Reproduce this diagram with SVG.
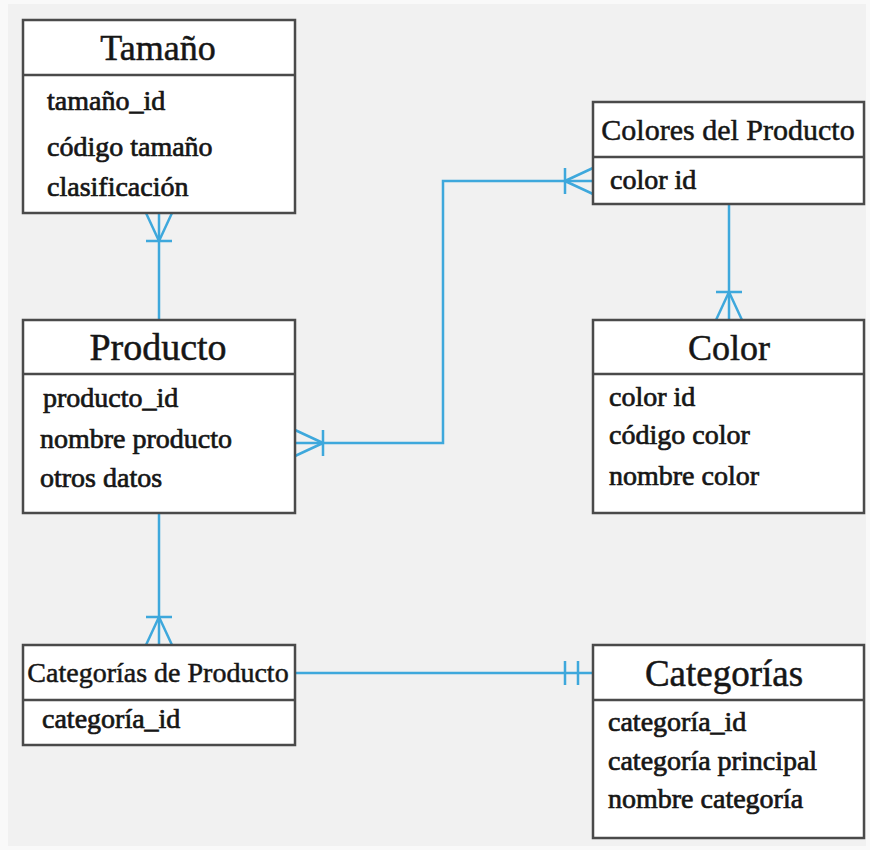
<svg xmlns="http://www.w3.org/2000/svg" width="870" height="850" viewBox="0 0 870 850">
  <style>
    .box { fill: #ffffff; stroke: #4a4a4a; stroke-width: 2.5; }
    .div { stroke: #4a4a4a; stroke-width: 2.5; }
    .title { font-family: "Liberation Serif", "DejaVu Serif", serif; fill: #161616; text-anchor: middle; stroke: #161616; stroke-width: 0.5; }
    .attr { font-family: "Liberation Serif", "DejaVu Serif", serif; font-size: 28px; fill: #161616; stroke: #161616; stroke-width: 0.7; }
    .rel { fill: none; stroke: #3ea8dc; stroke-width: 2.5; }
    .mk { fill: none; stroke: #3ea8dc; stroke-width: 2.5; }
  </style>
  <defs>
    <!-- crow's foot (many), tip at the entity edge -->
    <marker id="many" markerUnits="userSpaceOnUse" viewBox="-32 -16 34 32" refX="0" refY="0" markerWidth="34" markerHeight="32" orient="auto-start-reverse" overflow="visible">
      <path class="mk" d="M -28 0 L 0 -13 M -28 0 L 0 13 M -28 -13 L -28 13"/>
    </marker>
    <!-- exactly one: double bar -->
    <marker id="one" markerUnits="userSpaceOnUse" viewBox="-32 -16 34 32" refX="0" refY="0" markerWidth="34" markerHeight="32" orient="auto" overflow="visible">
      <path class="mk" d="M -15 -12 L -15 12 M -28 -12 L -28 12"/>
    </marker>
  </defs>

  <rect x="0" y="0" width="870" height="850" fill="#f9f9f9"/>
  <rect x="8" y="4" width="858" height="842" fill="#f1f1f1"/>

  <g id="connectors">
    <path class="rel" d="M159 320 V213" marker-end="url(#many)"/>
    <path class="rel" d="M593 181 H443 V443 H295" marker-start="url(#many)" marker-end="url(#many)"/>
    <path class="rel" d="M729 204 V320" marker-end="url(#many)"/>
    <path class="rel" d="M159 513 V645" marker-end="url(#many)"/>
    <path class="rel" d="M295 673 H593" marker-end="url(#one)"/>
  </g>

  <g id="tamano">
    <rect class="box" x="23" y="20" width="272" height="193"/>
    <line class="div" x1="23" y1="75" x2="295" y2="75"/>
    <text class="title" x="158" y="60" font-size="36">Tamaño</text>
    <text class="attr" x="47" y="110">tamaño_id</text>
    <text class="attr" x="47" y="156">código tamaño</text>
    <text class="attr" x="47" y="196">clasificación</text>
  </g>

  <g id="producto">
    <rect class="box" x="23" y="320" width="272" height="193"/>
    <line class="div" x1="23" y1="374" x2="295" y2="374"/>
    <text class="title" x="158" y="360" font-size="38">Producto</text>
    <text class="attr" x="43" y="407">producto_id</text>
    <text class="attr" x="40" y="448">nombre producto</text>
    <text class="attr" x="40" y="487">otros datos</text>
  </g>

  <g id="colores-del-producto">
    <rect class="box" x="593" y="102" width="271" height="102"/>
    <line class="div" x1="593" y1="157" x2="864" y2="157"/>
    <text class="title" x="728" y="140" font-size="30">Colores del Producto</text>
    <text class="attr" x="610" y="189">color id</text>
  </g>

  <g id="color">
    <rect class="box" x="593" y="320" width="271" height="193"/>
    <line class="div" x1="593" y1="374" x2="864" y2="374"/>
    <text class="title" x="729" y="360" font-size="36">Color</text>
    <text class="attr" x="609" y="406">color id</text>
    <text class="attr" x="609" y="444">código color</text>
    <text class="attr" x="609" y="485">nombre color</text>
  </g>

  <g id="categorias-de-producto">
    <rect class="box" x="23" y="645" width="272" height="100"/>
    <line class="div" x1="23" y1="700" x2="295" y2="700"/>
    <text class="title" x="158" y="682" font-size="28">Categorías de Producto</text>
    <text class="attr" x="42" y="728">categoría_id</text>
  </g>

  <g id="categorias">
    <rect class="box" x="593" y="645" width="271" height="193"/>
    <line class="div" x1="593" y1="700" x2="864" y2="700"/>
    <text class="title" x="724" y="686" font-size="37">Categorías</text>
    <text class="attr" x="608" y="731">categoría_id</text>
    <text class="attr" x="608" y="770">categoría principal</text>
    <text class="attr" x="608" y="808">nombre categoría</text>
  </g>
</svg>
